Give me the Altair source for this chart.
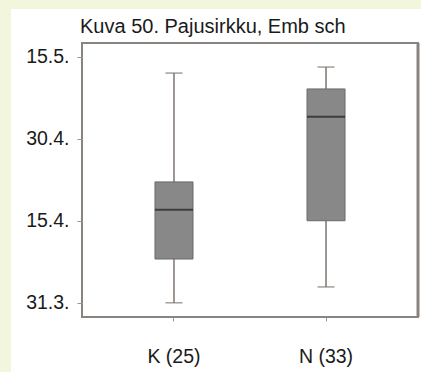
import altair as alt
import pandas as pd

groups = ["K (25)", "N (33)"]
# values in days after 31.3.
whisker_low = [0.0, 2.9]
q1 = [8.0, 15.0]
median = [17.0, 34.0]
q3 = [22.1, 39.1]
whisker_high = [42.0, 43.1]

tick_values = [0, 15, 30, 45]
tick_labels = ["31.3.", "15.4.", "30.4.", "15.5."]
title_text = "Kuva 50. Pajusirkku, Emb sch"

df = pd.DataFrame({
    "group": groups,
    "lo": whisker_low,
    "q1": q1,
    "med": median,
    "q3": q3,
    "hi": whisker_high,
})

label_expr = " : ".join(
    [f"datum.value == {v} ? '{l}'" for v, l in zip(tick_values, tick_labels)]
) + " : ''"

FONT = "Liberation Sans"
FS = 19.5

x_enc = alt.X(
    "group:N",
    sort=groups,
    title=None,
    scale=alt.Scale(paddingInner=0.75, paddingOuter=0.48),
    axis=alt.Axis(
        labelAngle=0, labelFont=FONT, labelFontSize=FS, labelColor="#1a1a1a",
        labelPadding=26, tickSize=4, tickColor="#9a9490", domain=False, zindex=1,
    ),
)
y_scale = alt.Scale(domain=[-2.6, 47.5], nice=False, zero=False)
y_axis = alt.Axis(
    values=tick_values, labelExpr=label_expr, title=None, grid=False,
    labelFont=FONT, labelFontSize=FS, labelColor="#1a1a1a",
    labelPadding=8, tickSize=5, tickColor="#9a9490", domain=False, zindex=1,
)

base = alt.Chart(df)
one = pd.DataFrame({"a": [0]})

panel = alt.Chart(one).mark_rect(color="white").encode(
    x=alt.value(-71), x2=alt.value(339), y=alt.value(-34), y2=alt.value(329)
)
frame = alt.Chart(one).mark_rect(fill=None, stroke="#8a8480", strokeWidth=2).encode(
    x=alt.value(0), x2=alt.value(336), y=alt.value(0), y2=alt.value(274)
)
title = alt.Chart(one).mark_text(
    text=title_text, align="left", baseline="alphabetic", font=FONT,
    fontSize=FS + 0.5, color="#1a1a1a",
).encode(x=alt.value(-2), y=alt.value(-10))

whisk = base.mark_rule(color="#7d7470", strokeWidth=1.5).encode(
    x=x_enc,
    y=alt.Y("lo:Q", scale=y_scale, axis=y_axis),
    y2="hi:Q",
)
caps_lo = base.mark_tick(color="#7d7470", size=17, thickness=1.5).encode(
    x=alt.X("group:N", sort=groups), y=alt.Y("lo:Q")
)
caps_hi = base.mark_tick(color="#7d7470", size=17, thickness=1.5).encode(
    x=alt.X("group:N", sort=groups), y=alt.Y("hi:Q")
)
box = base.mark_bar(color="#888888", stroke="#6a6a6a", strokeWidth=1).encode(
    x=alt.X("group:N", sort=groups), y=alt.Y("q1:Q"), y2="q3:Q"
)
med = base.mark_tick(color="#1e1e1e", size=38, thickness=2).encode(
    x=alt.X("group:N", sort=groups), y=alt.Y("med:Q")
)
right_edge = alt.Chart(one).mark_rule(
    color="#8a8480", strokeWidth=3
).encode(x=alt.value(336), y=alt.value(0), y2=alt.value(274))

chart = alt.layer(
    panel, frame, title, whisk, caps_lo, caps_hi, box, med, right_edge
).properties(
    width=336,
    height=274,
    autosize=alt.AutoSizeParams(type="none"),
    padding={"left": 82, "top": 43, "right": 3, "bottom": 55},
    background="#f2f6dc",
).configure_view(stroke=None, fill="white")

chart.save("out.html", embed_options={"renderer": "svg", "actions": False})
